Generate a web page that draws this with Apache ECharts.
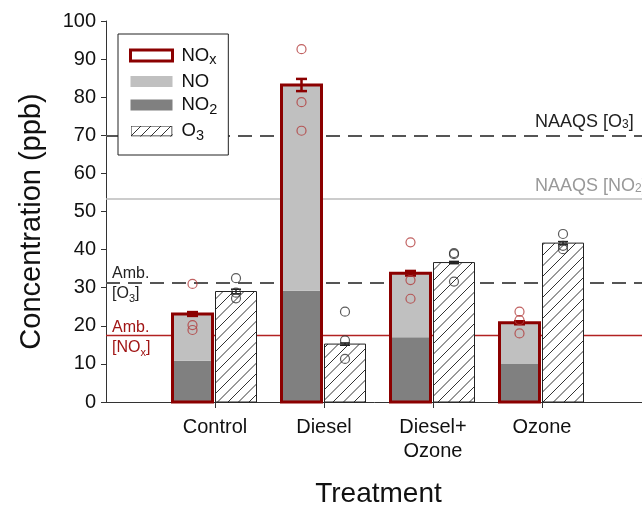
<!DOCTYPE html>
<html><head><meta charset="utf-8">
<script src="https://cdn.jsdelivr.net/npm/echarts@6/dist/echarts.min.js"></script>
<style>html,body{margin:0;padding:0;background:#fff}#c{width:642px;height:506px}</style>
</head><body><div id="c"></div>
<script>
// ---------- data ----------
const categories = ['', 'Control', 'Diesel', 'Diesel+\nOzone', 'Ozone', ''];
const treatmentIndex = [1, 2, 3, 4];
const no2Mean = [10.8, 29.2, 17.0, 10.0];
const noMean  = [12.3, 54.0, 16.8, 10.8];
const noxMean = [23.1, 83.2, 33.8, 20.8];
const noxSE   = [0.5, 1.6, 0.6, 0.4];
const o3Mean  = [29.0, 15.2, 36.6, 41.7];
const o3SE    = [0.6, 0.3, 0.3, 0.4];
const noxPoints = [[31.0, 20.2, 18.9], [92.6, 78.7, 71.2], [41.9, 32.0, 27.1], [23.7, 21.5, 18.0]];
const o3Points  = [[32.5, 28.7, 27.2], [23.7, 16.2, 11.3], [39.1, 38.8, 31.6], [44.1, 41.0, 40.1]];
const naaqsO3 = 70.0;
const naaqsNO2 = 53.3;
const ambientO3 = 31.4;
const ambientNOx = 17.4;
const yMin = 0, yMax = 100, yStep = 10;

// ---------- style ----------
const FONT = 'Liberation Sans, Arial, sans-serif';
const RED = '#8B0000';
const PT_RED = '#b23a3a';
const DASH = [14, 8];

function leftBar(api, lo, hi) {
  const c = api.value(0);
  const band = api.size([1, 0])[0];
  const p0 = api.coord([c, lo]);
  const p1 = api.coord([c, hi]);
  const x = Math.round(p0[0] - band * 0.39) + 0.5;
  const w = Math.round(band * 0.367);
  return { x: x, y: p1[1], width: w, height: p0[1] - p1[1], cx: x + w / 2 };
}
function rightBar(api, lo, hi) {
  const c = api.value(0);
  const band = api.size([1, 0])[0];
  const p0 = api.coord([c, lo]);
  const p1 = api.coord([c, hi]);
  const x = Math.round(p0[0]) + 0.5;
  const w = Math.round(band * 0.38);
  return { x: x, y: p1[1], width: w, height: p0[1] - p1[1], cx: x + w / 2 };
}

const no2Data = treatmentIndex.map((c, i) => [c, 0, no2Mean[i]]);
const noData  = treatmentIndex.map((c, i) => [c, no2Mean[i], no2Mean[i] + noMean[i]]);
const noxData = treatmentIndex.map((c, i) => [c, 0, noxMean[i]]);
const o3Data  = treatmentIndex.map((c, i) => [c, 0, o3Mean[i]]);
const noxErr  = treatmentIndex.map((c, i) => [c, noxMean[i] - noxSE[i], noxMean[i] + noxSE[i]]);
const o3Err   = treatmentIndex.map((c, i) => [c, o3Mean[i] - o3SE[i], o3Mean[i] + o3SE[i]]);
const noxPts  = noxPoints.flatMap((arr, i) => arr.map(v => [treatmentIndex[i], v]));
const o3Pts   = o3Points.flatMap((arr, i) => arr.map(v => [treatmentIndex[i], v]));

function fillRender(color) {
  return function (params, api) {
    const r = leftBar(api, api.value(1), api.value(2));
    return { type: 'rect', shape: { x: r.x, y: r.y, width: r.width, height: r.height }, style: { fill: color } };
  };
}

function hatchRender(params, api) {
  const r = rightBar(api, api.value(1), api.value(2));
  const x0 = r.x, x1 = r.x + r.width, y0 = r.y, y1 = r.y + r.height;
  const s = 10.5;
  const children = [{ type: 'rect', shape: { x: x0, y: y0, width: r.width, height: r.height }, style: { fill: '#fff' } }];
  const kStart = Math.floor((x0 + y0) / s) * s;
  for (let k = kStart; k <= x1 + y1; k += s) {
    const xa = Math.max(x0, k - y1), xb = Math.min(x1, k - y0);
    if (xb > xa) {
      children.push({ type: 'line', shape: { x1: xa, y1: k - xa, x2: xb, y2: k - xb }, style: { stroke: '#333', lineWidth: 1 } });
    }
  }
  children.push({ type: 'rect', shape: { x: x0, y: y0, width: r.width, height: r.height }, style: { fill: 'none', stroke: '#222', lineWidth: 1 } });
  return { type: 'group', children: children };
}

function outlineRender(params, api) {
  const r = leftBar(api, api.value(1), api.value(2));
  return { type: 'rect', shape: { x: r.x, y: r.y, width: r.width, height: r.height }, style: { fill: 'none', stroke: RED, lineWidth: 3 } };
}

function errRender(side, color, lw, cap) {
  return function (params, api) {
    const r = side === 'left' ? leftBar(api, api.value(1), api.value(2)) : rightBar(api, api.value(1), api.value(2));
    const x = r.cx, ya = r.y + r.height, yb = r.y;
    return { type: 'group', children: [
      { type: 'line', shape: { x1: x, y1: ya, x2: x, y2: yb }, style: { stroke: color, lineWidth: lw } },
      { type: 'line', shape: { x1: x - cap, y1: ya, x2: x + cap, y2: ya }, style: { stroke: color, lineWidth: lw } },
      { type: 'line', shape: { x1: x - cap, y1: yb, x2: x + cap, y2: yb }, style: { stroke: color, lineWidth: lw } }
    ] };
  };
}

const hatchIcon = 'image://data:image/svg+xml;charset=utf-8,' + encodeURIComponent(
  "<svg xmlns='http://www.w3.org/2000/svg' width='42' height='11' viewBox='0 0 42 11'>" +
  "<rect x='0.5' y='0.5' width='41' height='10' fill='#fff'/>" +
  "<path d='M-2 13L11 0M8 13L21 0M18 13L31 0M28 13L41 0M38 13L51 0' stroke='#333' stroke-width='1'/>" +
  "<rect x='0.5' y='0.5' width='41' height='10' fill='none' stroke='#222' stroke-width='1'/></svg>");

const legendNames = { 'NOx': '{b|NO}{s|x}', 'NO': '{b|NO}', 'NO2': '{b|NO}{s|2}', 'O3': '{b|O}{s|3}' };

const chart = echarts.init(document.getElementById('c'));
chart.setOption({
  animation: false,
  backgroundColor: '#fff',
  grid: { left: 106, top: 21, width: 545, height: 381, containLabel: false, outerBoundsMode: 'none' },
  xAxis: {
    type: 'category', data: categories, boundaryGap: false,
    axisLine: { lineStyle: { color: '#333', width: 1 } },
    axisTick: { length: 6, interval: (i) => i >= 1 && i <= 4, lineStyle: { color: '#333' } },
    axisLabel: { interval: 0, fontSize: 20, lineHeight: 24, color: '#111', fontFamily: FONT, margin: 13 },
    name: 'Treatment', nameLocation: 'middle', nameGap: 78,
    nameTextStyle: { fontSize: 28, color: '#111', fontFamily: FONT },
    splitLine: { show: false }
  },
  yAxis: {
    type: 'value', min: yMin, max: yMax, interval: yStep,
    axisLine: { show: true, lineStyle: { color: '#333', width: 1 } },
    axisTick: { show: true, length: 5, lineStyle: { color: '#333' } },
    axisLabel: { fontSize: 20, color: '#111', fontFamily: FONT, margin: 10 },
    splitLine: { show: false },
    name: 'Concentration (ppb)', nameLocation: 'middle', nameGap: 60, nameRotate: 90,
    nameTextStyle: { fontSize: 29, color: '#111', fontFamily: FONT, padding: [0, 20, 0, 0] }
  },
  legend: {
    orient: 'vertical', left: 118, top: 34,
    backgroundColor: '#fff', borderColor: '#222', borderWidth: 1, borderRadius: 0,
    padding: [12, 11, 12, 11], itemWidth: 42, itemHeight: 11, itemGap: 4.5,
    selectedMode: false, z: 20,
    textStyle: {
      fontFamily: FONT, color: '#111', padding: [0, 0, 0, 4],
      rich: {
        b: { fontSize: 18.5, lineHeight: 24, fontFamily: FONT, color: '#111' },
        s: { fontSize: 14.5, lineHeight: 8, verticalAlign: 'bottom', fontFamily: FONT, color: '#111' }
      }
    },
    formatter: (n) => legendNames[n],
    data: [
      { name: 'NOx', icon: 'rect', itemStyle: { color: '#fff', borderColor: RED, borderWidth: 3 } },
      { name: 'NO', icon: 'rect', itemStyle: { color: '#c0c0c0', borderWidth: 0 } },
      { name: 'NO2', icon: 'rect', itemStyle: { color: '#808080', borderWidth: 0 } },
      { name: 'O3', icon: hatchIcon }
    ]
  },
  graphic: [
    { type: 'text', left: 535, top: 113, z: 5, style: { text: 'NAAQS [O{s|3}]', fill: '#222', font: '18px ' + FONT,
      rich: { s: { fontSize: 12, lineHeight: 8, verticalAlign: 'bottom', fill: '#222', fontFamily: FONT } } } },
    { type: 'text', left: 535, top: 177, z: 5, style: { text: 'NAAQS [NO{s|2}]', fill: '#999', font: '18px ' + FONT,
      rich: { s: { fontSize: 12, lineHeight: 8, verticalAlign: 'bottom', fill: '#999', fontFamily: FONT } } } },
    { type: 'text', left: 112, top: 264, z: 5, style: { text: 'Amb.\n[O{s|3}]', fill: '#222', font: '16px ' + FONT, lineHeight: 20,
      rich: { s: { fontSize: 11, lineHeight: 6, verticalAlign: 'bottom', fill: '#222', fontFamily: FONT } } } },
    { type: 'text', left: 112, top: 318, z: 5, style: { text: 'Amb.\n[NO{s|x}]', fill: '#a01515', font: '16px ' + FONT, lineHeight: 20,
      rich: { s: { fontSize: 11, lineHeight: 6, verticalAlign: 'bottom', fill: '#a01515', fontFamily: FONT } } } }
  ],
  series: [
    {
      name: 'refs', type: 'line', data: [], silent: true, z: 1,
      markLine: {
        silent: true, symbol: 'none', label: { show: false }, z: 1,
        data: [
          { yAxis: naaqsO3, lineStyle: { color: '#555', width: 2, type: DASH } },
          { yAxis: naaqsNO2, lineStyle: { color: '#bbb', width: 1.5, type: 'solid' } },
          { yAxis: ambientO3, lineStyle: { color: '#555', width: 2, type: DASH } },
          { yAxis: ambientNOx, lineStyle: { color: '#b22222', width: 1.3, type: 'solid' } }
        ]
      }
    },
    { name: 'NO2', type: 'custom', z: 3, renderItem: fillRender('#808080'), data: no2Data, itemStyle: { color: '#808080' } },
    { name: 'NO', type: 'custom', z: 3, renderItem: fillRender('#c0c0c0'), data: noData, itemStyle: { color: '#c0c0c0' } },
    { name: 'NOx', type: 'custom', z: 4, renderItem: outlineRender, data: noxData, itemStyle: { color: RED } },
    { name: 'O3', type: 'custom', z: 3, renderItem: hatchRender, data: o3Data, itemStyle: { color: '#fff' } },
    { name: 'NOx SE', type: 'custom', z: 5, renderItem: errRender('left', RED, 2.5, 5.5), data: noxErr },
    { name: 'O3 SE', type: 'custom', z: 5, renderItem: errRender('right', '#222', 1.5, 5), data: o3Err },
    { name: 'NOx obs', type: 'scatter', z: 6, data: noxPts, symbol: 'circle', symbolSize: 9, symbolOffset: [-22.5, 0],
      itemStyle: { color: 'rgba(0,0,0,0)', borderColor: PT_RED, borderWidth: 1.2 } },
    { name: 'O3 obs', type: 'scatter', z: 6, data: o3Pts, symbol: 'circle', symbolSize: 9, symbolOffset: [21, 0],
      itemStyle: { color: 'rgba(0,0,0,0)', borderColor: '#333', borderWidth: 1.2 } }
  ]
});
</script></body></html>
